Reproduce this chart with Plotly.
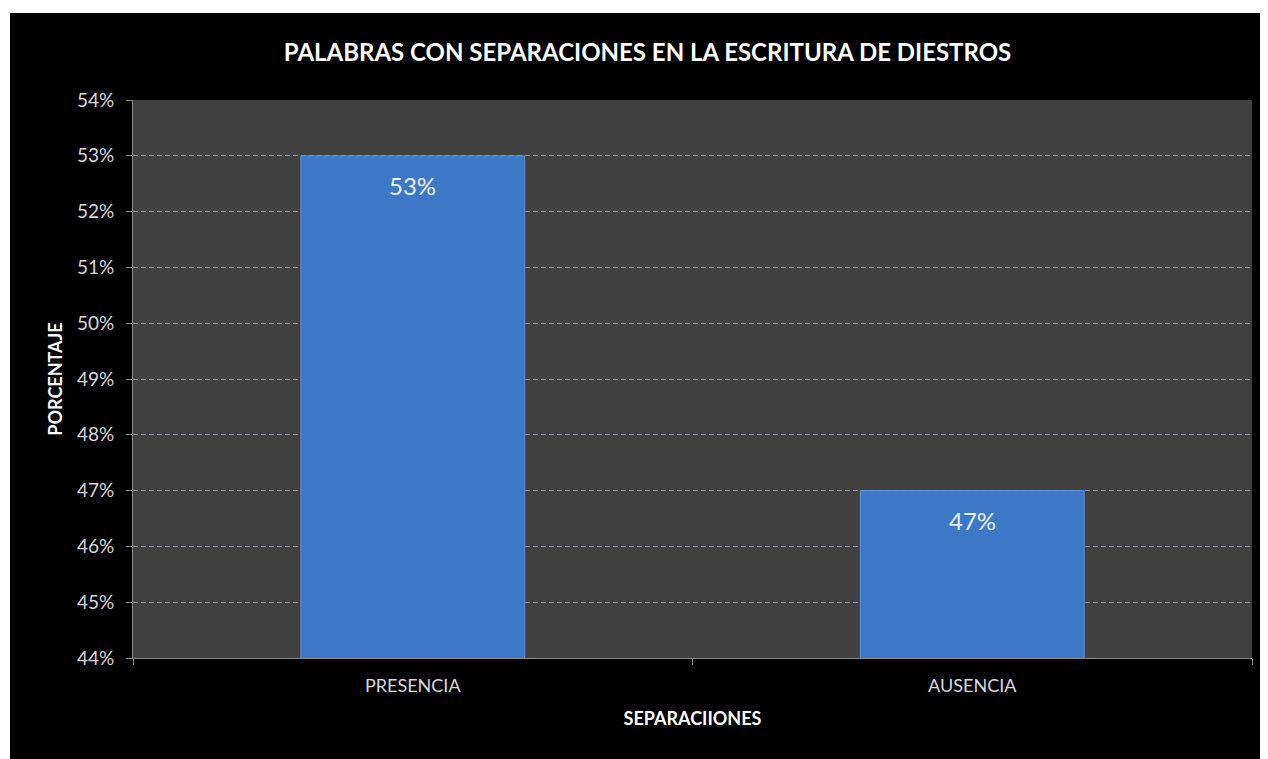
import plotly.graph_objects as go

categories = ["PRESENCIA", "AUSENCIA"]
values = [0.53, 0.47]
value_labels = ["53%", "47%"]
title_text = "PALABRAS CON SEPARACIONES EN LA ESCRITURA DE DIESTROS"
x_title = "SEPARACIIONES"
y_title = "PORCENTAJE"

FONT = "Lato, Open Sans, sans-serif"
OFF = 8  # page body margin
W, H = 1268 - OFF, 759 - OFF
L, R, T, B = 133 - OFF, 1268 - 1252, 100 - OFF, 759 - 658
pw, ph = W - L - R, H - T - B

fig = go.Figure()
fig.add_trace(go.Bar(
    x=categories, y=values,
    marker=dict(color="#3d78c6", line=dict(color="#5b96de", width=1)),
    width=0.4,
    hoverinfo="skip",
))

for c, v, t in zip(categories, values, value_labels):
    fig.add_annotation(x=c, y=v, text=t, showarrow=False, yanchor="middle",
                       yshift=-30, font=dict(family=FONT, size=24, color="#e8eef8"))

def px_x(p):
    return (p - OFF - L) / pw

def px_y(p):
    return (H - B - (p - OFF)) / ph

shapes = [
    dict(type="rect", xref="paper", yref="paper", x0=-0.3, x1=1.2,
         y0=px_y(13), y1=1.5, fillcolor="white", line_width=0, layer="below"),
    dict(type="rect", xref="paper", yref="paper", x0=-0.3, x1=px_x(10),
         y0=-0.5, y1=1.5, fillcolor="white", line_width=0, layer="below"),
]

fig.update_layout(
    width=W, height=H,
    margin=dict(l=L, r=R, t=T, b=B),
    paper_bgcolor="black",
    plot_bgcolor="#404040",
    shapes=shapes,
    showlegend=False,
    title=dict(text="<b>" + title_text + "</b>", x=(647.5 - OFF) / W, xanchor="center",
               xref="container", y=1 - (53 - OFF) / H, yanchor="middle",
               font=dict(family=FONT, size=24, color="white")),
    font=dict(family=FONT, color="#d9d9d9"),
    xaxis=dict(
        tickson="boundaries", ticks="outside", ticklen=6, tickcolor="#8c8c8c",
        showline=True, linecolor="#8c8c8c", linewidth=1,
        tickfont=dict(family=FONT, size=18, color="#d9d9d9"),
        ticklabelstandoff=11,
        title=dict(text="<b>" + x_title + "</b>", standoff=17,
                   font=dict(family=FONT, size=18, color="white")),
        showgrid=False,
    ),
    yaxis=dict(
        range=[0.44, 0.54], dtick=0.01, tickformat=".0%",
        ticks="outside", ticklen=6, tickcolor="#8c8c8c",
        showline=True, linecolor="#8c8c8c", linewidth=1,
        showgrid=True, gridcolor="#8597b5", griddash="5px,3px", gridwidth=1,
        zeroline=False, ticklabelstandoff=8,
        tickfont=dict(family=FONT, size=19, color="#d9d9d9"),
        title=dict(text="<b>" + y_title + "</b>", standoff=9,
                   font=dict(family=FONT, size=18, color="white")),
    ),
)

fig.write_html("out.html")
